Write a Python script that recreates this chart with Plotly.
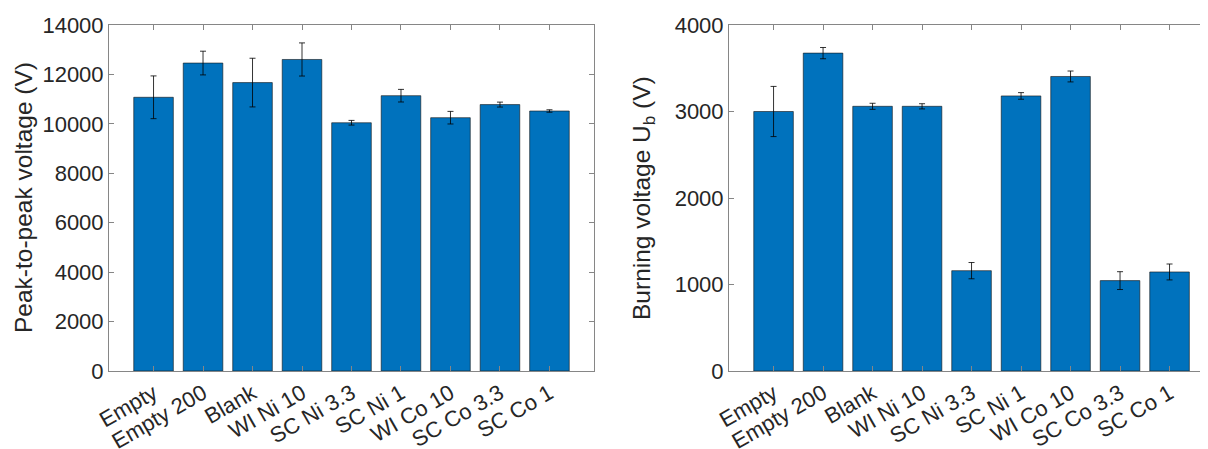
import plotly.graph_objects as go

categories = ["Empty", "Empty 200", "Blank", "WI Ni 10", "SC Ni 3.3",
              "SC Ni 1", "WI Co 10", "SC Co 3.3", "SC Co 1"]

# Left panel: peak-to-peak voltage (V)
vpp_mean = [11075, 12460, 11670, 12605, 10045, 11140, 10250, 10780, 10520]
vpp_err = [865, 480, 985, 670, 95, 255, 255, 100, 50]

# Right panel: burning voltage U_b (V)
ub_mean = [3000, 3675, 3060, 3060, 1160, 3180, 3405, 1045, 1145]
ub_err = [290, 65, 35, 30, 94, 38, 63, 103, 92]

left_ticks = [0, 2000, 4000, 6000, 8000, 10000, 12000, 14000]
right_ticks = [0, 1000, 2000, 3000, 4000]

BAR = "#0072BD"
AX = "#868686"
TXT = "#262626"
FONT = "Liberation Sans, Arial, sans-serif"

# page body adds an 8px offset; figure is sized so it ends at the window edge
OFF = 8
W, H = 1208 - OFF, 449 - OFF

def px_x(p):
    return (p - OFF) / W

def px_y(p):
    return (H - (p - OFF)) / H

fig = go.Figure()

common_bar = dict(marker=dict(color=BAR, line=dict(color="rgba(20,20,20,0.75)", width=0.8)),
                  showlegend=False)
err_style = dict(type="data", color="rgba(0,0,0,0.8)", thickness=1, width=3)

fig.add_trace(go.Bar(x=categories, y=vpp_mean,
                     error_y=dict(array=vpp_err, **err_style),
                     xaxis="x", yaxis="y", **common_bar))
fig.add_trace(go.Bar(x=categories, y=ub_mean,
                     error_y=dict(array=ub_err, **err_style),
                     xaxis="x2", yaxis="y2", **common_bar))

ydom = [px_y(371), px_y(25)]

xcommon = dict(type="category", showline=True, linecolor=AX, linewidth=1,
               ticks="inside", ticklen=5, tickcolor=AX, tickangle=-30,
               tickfont=dict(family=FONT, size=22, color=TXT),
               showgrid=False, zeroline=False, automargin=False, fixedrange=True)
ycommon = dict(showline=True, linecolor=AX, linewidth=1,
               ticks="inside", ticklen=5, tickcolor=AX, tickformat="d",
               tickfont=dict(family=FONT, size=22, color=TXT),
               showgrid=False, zeroline=False, automargin=False, fixedrange=True)

fig.update_layout(
    width=W, height=H,
    margin=dict(l=0, r=0, t=0, b=0),
    paper_bgcolor="white", plot_bgcolor="white",
    bargap=0.2,
    font=dict(family=FONT, color=TXT),
    xaxis=dict(domain=[px_x(109), px_x(594)], anchor="y", range=[-0.9, 8.9],
               mirror="ticks", **xcommon),
    yaxis=dict(domain=ydom, anchor="x", range=[0, 14000], tickvals=left_ticks,
               mirror="ticks", **ycommon),
    xaxis2=dict(domain=[px_x(729), 1.0], anchor="y2", range=[-0.9, 8.777],
                mirror="ticks", **xcommon),
    yaxis2=dict(domain=ydom, anchor="x2", range=[0, 4000], tickvals=right_ticks,
                mirror=False, **ycommon),
    annotations=[
        dict(text="Peak-to-peak voltage (V)", xref="x domain", yref="y domain",
             x=0, y=0.5, xshift=-86, xanchor="center", yanchor="middle",
             textangle=-90, showarrow=False,
             font=dict(family=FONT, size=24.5, color=TXT)),
        dict(text="Burning voltage U<sub>b</sub> (V)", xref="x2 domain", yref="y2 domain",
             x=0, y=0.5, xshift=-86, xanchor="center", yanchor="middle",
             textangle=-90, showarrow=False,
             font=dict(family=FONT, size=24.5, color=TXT)),
    ],
)

fig.write_html("out.html")
